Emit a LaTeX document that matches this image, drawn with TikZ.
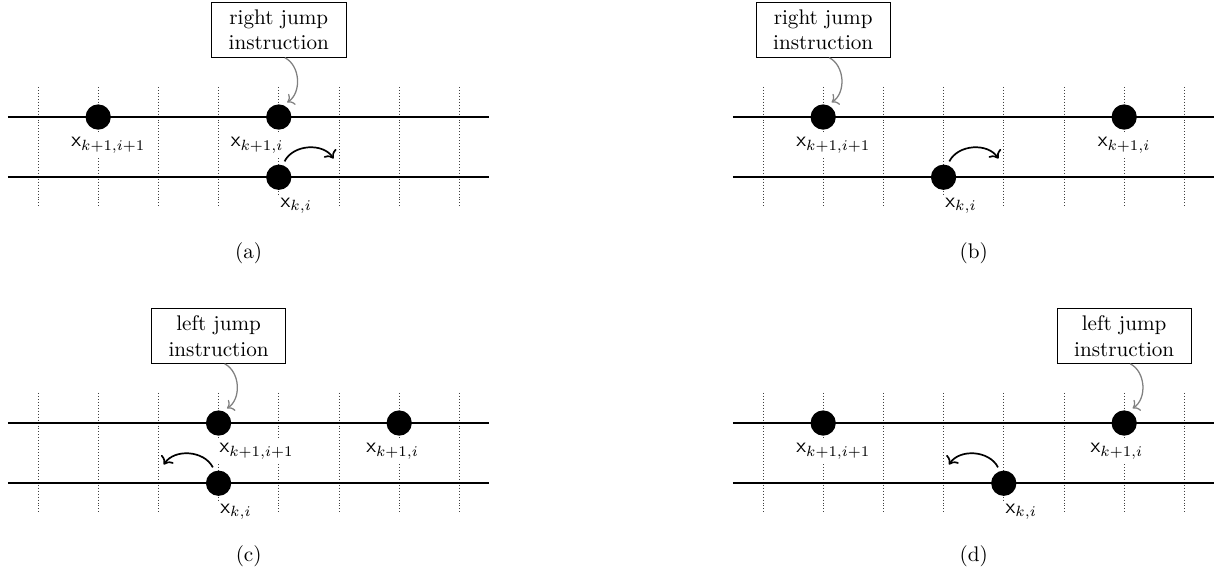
\documentclass[tikz,border=0pt]{standalone}
\usepackage{amsmath,amssymb}
\usepackage{tikz}
\usetikzlibrary{positioning,arrows.meta}

\tikzset{
  wire/.style={thick},
  gridline/.style={densely dotted, black!75},
  dot/.style={circle, fill, inner sep=0pt, minimum size=0.42cm, outer sep=2pt},
  instr/.style={draw, fill=white, text width=2cm, align=center},
  lbl/.style={fill=white, inner sep=1.5pt},
  hint/.style={->, gray, semithick},
  jump/.style={->, thick},
}

\begin{document}
\begin{tikzpicture}
    \useasboundingbox (0,0) rectangle (20.216,-9.585);

    % (a) right jump, target straight above
    \begin{scope}[shift={(0.631,-1.944)}]
        \foreach \c in {0,...,7} \draw[gridline] (\c,0.5) -- (\c,-1.5);
        \draw[wire] (-0.5,0) -- (7.5,0);
        \draw[wire] (-0.5,-1) -- (7.5,-1);
        \node[dot] (ua1) at (1,0) {};
        \node[dot] (ua2) at (4,0) {};
        \node[dot] (da) at (4,-1) {};
        \node[lbl, below=0pt of ua1, xshift=0.17cm] (la1) {$\mathsf{x}_{k+1,i+1}$};
        \node[lbl, below=0pt of ua2, xshift=-0.36cm] (la2) {$\mathsf{x}_{k+1,i}$};
        \node[lbl, below=0pt of da, xshift=0.29cm] (lda) {$\mathsf{x}_{k,i}$};
        \node[instr] (ia) at (4,1.445) {right jump instruction};
        \draw[hint] ([xshift=0.1cm]ia.south) to[bend left=60] (ua2.60);
        \coordinate (ea) at (4.91,-0.69);
        \draw[jump] (da.70) to[bend left=60] (ea);
        \node (capa) at (3.5,-2.27) {(a)};
    \end{scope}

    % (b) right jump, target further right
    \begin{scope}[shift={(12.674,-1.944)}]
        \foreach \c in {0,...,7} \draw[gridline] (\c,0.5) -- (\c,-1.5);
        \draw[wire] (-0.5,0) -- (7.5,0);
        \draw[wire] (-0.5,-1) -- (7.5,-1);
        \node[dot] (ub1) at (1,0) {};
        \node[dot] (ub2) at (6,0) {};
        \node[dot] (db) at (3,-1) {};
        \node[lbl, below=0pt of ub1, xshift=0.17cm] (lb1) {$\mathsf{x}_{k+1,i+1}$};
        \node[lbl, below=0pt of ub2] (lb2) {$\mathsf{x}_{k+1,i}$};
        \node[lbl, below=0pt of db, xshift=0.29cm] (ldb) {$\mathsf{x}_{k,i}$};
        \node[instr] (ib) at (1,1.445) {right jump instruction};
        \draw[hint] ([xshift=0.1cm]ib.south) to[bend left=60] (ub1.60);
        \coordinate (eb) at (3.91,-0.69);
        \draw[jump] (db.70) to[bend left=60] (eb);
        \node (capb) at (3.5,-2.27) {(b)};
    \end{scope}

    % (c) left jump, target straight above
    \begin{scope}[shift={(0.631,-7.027)}]
        \foreach \c in {0,...,7} \draw[gridline] (\c,0.5) -- (\c,-1.5);
        \draw[wire] (-0.5,0) -- (7.5,0);
        \draw[wire] (-0.5,-1) -- (7.5,-1);
        \node[dot] (uc1) at (3,0) {};
        \node[dot] (uc2) at (6,0) {};
        \node[dot] (dc) at (3,-1) {};
        \node[lbl, below=0pt of uc1, xshift=0.63cm] (lc1) {$\mathsf{x}_{k+1,i+1}$};
        \node[lbl, below=0pt of uc2, xshift=-0.11cm] (lc2) {$\mathsf{x}_{k+1,i}$};
        \node[lbl, below=0pt of dc, xshift=0.29cm] (ldc) {$\mathsf{x}_{k,i}$};
        \node[instr] (ic) at (3,1.445) {left jump instruction};
        \draw[hint] ([xshift=0.1cm]ic.south) to[bend left=60] (uc1.60);
        \coordinate (ec) at (2.09,-0.69);
        \draw[jump] (dc.110) to[bend right=60] (ec);
        \node (capc) at (3.5,-2.22) {(c)};
    \end{scope}

    % (d) left jump, target further left
    \begin{scope}[shift={(12.674,-7.027)}]
        \foreach \c in {0,...,7} \draw[gridline] (\c,0.5) -- (\c,-1.5);
        \draw[wire] (-0.5,0) -- (7.5,0);
        \draw[wire] (-0.5,-1) -- (7.5,-1);
        \node[dot] (ud1) at (1,0) {};
        \node[dot] (ud2) at (6,0) {};
        \node[dot] (dd) at (4,-1) {};
        \node[lbl, below=0pt of ud1, xshift=0.17cm] (ld1) {$\mathsf{x}_{k+1,i+1}$};
        \node[lbl, below=0pt of ud2, xshift=-0.12cm] (ld2) {$\mathsf{x}_{k+1,i}$};
        \node[lbl, below=0pt of dd, xshift=0.29cm] (ldd) {$\mathsf{x}_{k,i}$};
        \node[instr] (id) at (6,1.445) {left jump instruction};
        \draw[hint] ([xshift=0.1cm]id.south) to[bend left=60] (ud2.60);
        \coordinate (ed) at (3.09,-0.69);
        \draw[jump] (dd.110) to[bend right=60] (ed);
        \node (capd) at (3.5,-2.22) {(d)};
    \end{scope}
\end{tikzpicture}
\end{document}
